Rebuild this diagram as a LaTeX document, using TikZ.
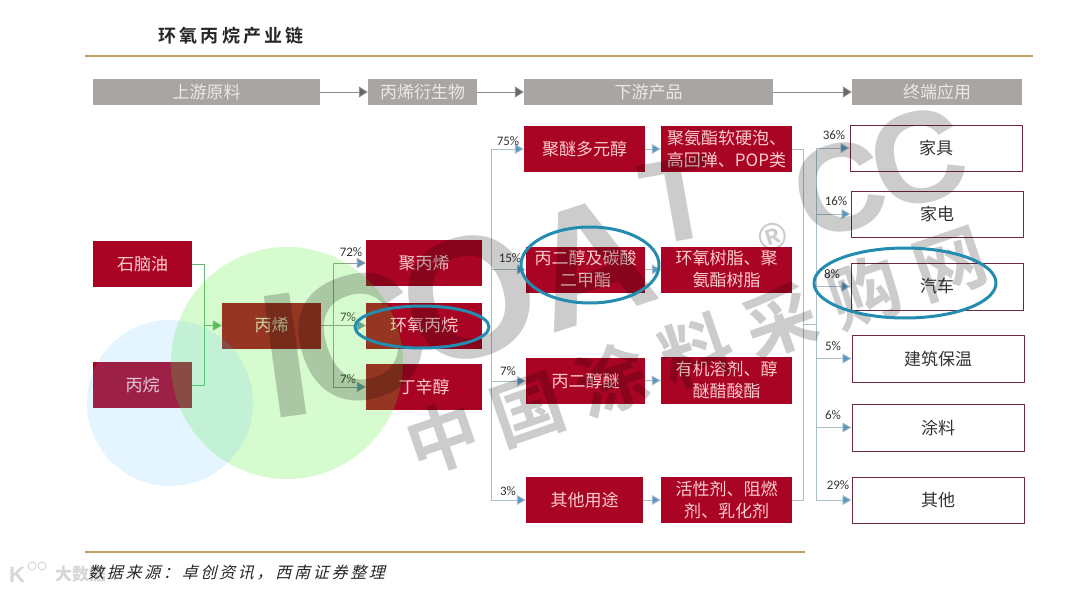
\documentclass[tikz,border=0pt]{standalone}
\usepackage{fontspec}
\setmainfont{Noto Sans CJK SC}
\newfontfamily\wmfont{Liberation Sans}
\newfontfamily\pctfont{Carlito}
\newfontfamily\slantfont[FakeSlant=0.25,LetterSpace=17]{Noto Sans CJK SC}
\newfontfamily\titlefont[LetterSpace=17]{Noto Sans CJK SC Bold}
\newfontfamily\wmbroad[LetterSpace=24]{Noto Sans CJK SC Bold}
\usetikzlibrary{arrows.meta}
\definecolor{chnred}{RGB}{170,4,36}
\definecolor{chnpink}{RGB}{250,205,205}
\definecolor{chnhead}{RGB}{169,165,163}
\definecolor{chngold}{RGB}{190,160,95}
\definecolor{chnedge}{RGB}{110,40,60}
\definecolor{chnflow}{RGB}{170,190,200}
\definecolor{chntip}{RGB}{88,150,195}
\definecolor{chnring}{RGB}{35,140,175}
\definecolor{chngreen}{RGB}{70,235,30}
\definecolor{chnblue}{RGB}{90,190,255}
\tikzset{
  chnbase/.style={x=1pt,y=-1pt,line join=round},
  headbox/.style={fill=chnhead,text=white!75!chnhead,inner sep=0pt,font=\fontsize{17}{20}\selectfont},
  redbox/.style={fill=chnred,text=chnpink,inner sep=0pt,align=center,font=\fontsize{17}{22}\selectfont},
  endbox/.style={draw=chnedge,line width=1pt,fill=white,text=black!80,inner sep=0pt,font=\fontsize{17}{20}\selectfont},
  headflow/.style={draw=black!45,line width=.9pt,-{Triangle[length=9pt,width=11pt,fill=black!60]}},
  flowline/.style={draw=chnflow,line width=.9pt},
  flowtip/.style={flowline,-{Triangle[length=9pt,width=10pt,fill=chntip]}},
  feedline/.style={draw=black!35!green!40!chnflow,line width=.9pt},
  feedtip/.style={feedline,-{Triangle[length=9pt,width=10pt,fill=green!45!black!60]}},
  pctnote/.style={font=\pctfont\fontsize{13}{15}\selectfont,text=black!80,inner sep=0pt},
  ringmark/.style={draw=chnring,line width=3pt},
  wmnote/.style={text=black,text opacity=.2,inner sep=0pt},
  wmletter/.style={wmnote,font=\wmfont\bfseries\fontsize{#1}{#1}\selectfont}
}
\begin{document}
\begin{tikzpicture}[chnbase]
\useasboundingbox (0,0) rectangle (1080,594);
\node[font=\titlefont\fontsize{18}{20}\selectfont,text=black!85,inner sep=0pt] (title) at (231,36) {环氧丙烷产业链};
\coordinate (rulea) at (85,56);
\coordinate (ruleb) at (1033,56);
\draw[chngold,line width=2.2pt] (rulea)--(ruleb);
\node[headbox,minimum width=227,minimum height=26] (headraw) at (206.5,92) {上游原料};
\node[headbox,minimum width=109,minimum height=26] (headder) at (422.5,92) {丙烯衍生物};
\node[headbox,minimum width=249,minimum height=26] (headdown) at (648.5,92) {下游产品};
\node[headbox,minimum width=170,minimum height=26] (headuse) at (937,92) {终端应用};
\draw[headflow] (headraw)--(headder);
\draw[headflow] (headder)--(headdown);
\draw[headflow] (headdown)--(headuse);
\node[redbox,minimum width=99,minimum height=46] (naphtha) at (142.5,264) {石脑油};
\node[redbox,minimum width=99,minimum height=46] (propane) at (142.5,385) {丙烷};
\node[redbox,minimum width=99,minimum height=46] (propene) at (271.5,325.5) {丙烯};
\node[redbox,minimum width=116,minimum height=46] (polypro) at (424,263) {聚丙烯};
\node[redbox,minimum width=116,minimum height=46] (epoxy) at (424,325.5) {环氧丙烷};
\node[redbox,minimum width=116,minimum height=46] (butanol) at (424,387) {丁辛醇};
\node[redbox,minimum width=121,minimum height=46] (polyether) at (584.5,149) {聚醚多元醇};
\node[redbox,minimum width=119,minimum height=46] (glycol) at (585.5,269.5) {丙二醇及碳酸\\二甲酯};
\node[redbox,minimum width=119,minimum height=46] (glyether) at (585.5,381) {丙二醇醚};
\node[redbox,minimum width=117,minimum height=46] (otheruse) at (584.5,500) {其他用途};
\node[redbox,minimum width=131,minimum height=46] (foam) at (726.5,149) {聚氨酯软硬泡、\\高回弹、POP类};
\node[redbox,minimum width=131,minimum height=46] (resin) at (726.5,269.5) {环氧树脂、聚\\氨酯树脂};
\node[redbox,minimum width=131,minimum height=47] (solvent) at (726.5,380) {有机溶剂、醇\\醚醋酸酯};
\node[redbox,minimum width=131,minimum height=46] (additive) at (726.5,500) {活性剂、阻燃\\剂、乳化剂};
\node[endbox,minimum width=172,minimum height=46] (furniture) at (936,148) {家具};
\node[endbox,minimum width=172,minimum height=46] (appliance) at (937,214) {家电};
\node[endbox,minimum width=172,minimum height=47] (car) at (937,286.5) {汽车};
\node[endbox,minimum width=172,minimum height=47] (insulate) at (938,358.5) {建筑保温};
\node[endbox,minimum width=172,minimum height=47] (coating) at (938,427.5) {涂料};
\node[endbox,minimum width=172,minimum height=46] (otherend) at (938,500) {其他};
\coordinate (joinfeed) at (204,325.5);
\coordinate (joinder) at (333,325.5);
\coordinate (trunkdown) at (491,149);
\coordinate (trunkdownb) at (491,500);
\coordinate (trunkout) at (803,149);
\coordinate (trunkoutb) at (803,500);
\coordinate (trunkuse) at (816,148);
\coordinate (trunkuseb) at (816,500);
\coordinate (linkout) at (803,324);
\coordinate (linkuse) at (816,324);
\draw[feedline] (naphtha.east)-|(joinfeed);
\draw[feedline] (propane.east)-|(joinfeed);
\draw[feedtip] (joinfeed)--(propene.west);
\draw[flowline,draw=black!40] (propene.east)--(joinder);
\draw[flowtip,draw=black!40] (joinder)|-(polypro.west);
\draw[flowtip,draw=black!40] (joinder)--(epoxy.west);
\draw[flowtip,draw=black!40] (joinder)|-(butanol.west);
\draw[flowline] (trunkdown)--(trunkdownb);
\draw[flowtip] (trunkdown)--(polyether.west);
\draw[flowtip] (trunkdown|-glycol.west)--(glycol.west);
\draw[flowtip] (trunkdown|-glyether.west)--(glyether.west);
\draw[flowtip] (trunkdownb)--(otheruse.west);
\draw[flowtip] (polyether)--(foam);
\draw[flowtip] (glycol)--(resin);
\draw[flowtip] (glyether)--(solvent);
\draw[flowtip] (otheruse)--(additive);
\draw[flowline] (foam.east)--(trunkout)--(trunkoutb)--(additive.east);
\draw[flowline] (linkout)--(linkuse);
\draw[flowline] (trunkuse)--(trunkuseb);
\draw[flowtip] (trunkuse)--(furniture.west);
\draw[flowtip] (trunkuse|-appliance.west)--(appliance.west);
\draw[flowtip] (trunkuse|-car.west)--(car.west);
\draw[flowtip] (trunkuse|-insulate.west)--(insulate.west);
\draw[flowtip] (trunkuse|-coating.west)--(coating.west);
\draw[flowtip] (trunkuseb)--(otherend.west);
\node[pctnote] (pcta) at (351,252) {72\%};
\node[pctnote] (pctb) at (348,317) {7\%};
\node[pctnote] (pctc) at (348,379) {7\%};
\node[pctnote] (pctd) at (508,141) {75\%};
\node[pctnote] (pcte) at (510,258) {15\%};
\node[pctnote] (pctf) at (508,371) {7\%};
\node[pctnote] (pctg) at (508,491) {3\%};
\node[pctnote] (pcth) at (834,135) {36\%};
\node[pctnote] (pcti) at (836,201) {16\%};
\node[pctnote] (pctj) at (832,274) {8\%};
\node[pctnote] (pctk) at (833,346) {5\%};
\node[pctnote] (pctl) at (833,415) {6\%};
\node[pctnote] (pctm) at (838,485) {29\%};
\fill[chngreen,fill opacity=.22] (287,363) circle (116);
\fill[chnblue,fill opacity=.16] (170,403) circle (83);
\node[wmletter=178,rotate=8] (wmi) at (285,355) {I};
\node[wmletter=178,rotate=18] (wmc) at (358,338) {C};
\node[wmletter=172,rotate=18] (wmo) at (470,298) {O};
\node[wmletter=165,rotate=18] (wma) at (590,262) {A};
\node[wmletter=118,rotate=10] (wmt) at (678,200) {T};
\node[wmletter=38,rotate=18] (wmreg) at (773,237) {®};
\node[wmletter=125,rotate=15] (wmca) at (840,188) {C};
\node[wmletter=130,rotate=15] (wmcb) at (918,158) {C};
\node[wmnote,font=\wmbroad\fontsize{72}{72}\selectfont,rotate=19] (wmchina) at (696,350) {中国涂料采购网};
\draw[ringmark] (422,327) ellipse [x radius=67,y radius=21];
\draw[ringmark] (590,265) ellipse [x radius=69,y radius=38];
\draw[ringmark] (905,283) ellipse [x radius=91,y radius=35];
\coordinate (footruleb) at (805,552);
\coordinate (footrulea) at (85,552);
\draw[chngold,line width=2.2pt] (footrulea)--(footruleb);
\node[font=\bfseries\fontsize{17}{20}\selectfont,text=black!16,inner sep=0pt,anchor=west] (wmbig) at (55,574) {大数据};
\node[font=\wmfont\bfseries\fontsize{22}{22}\selectfont,text=black!16,inner sep=0pt] (wmlogo) at (17,575) {K};
\draw[black!16,line width=1pt] (32,566) circle (4) (42,566) circle (4);
\node[font=\slantfont\fontsize{16}{18}\selectfont,text=black!85,inner sep=0pt,anchor=west] (source) at (88,573) {数据来源：卓创资讯，西南证券整理};
\end{tikzpicture}
\end{document}
